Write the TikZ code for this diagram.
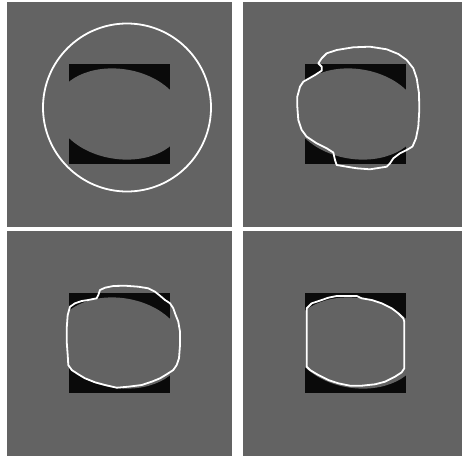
\documentclass[tikz,border=0pt]{standalone}
\definecolor{panelgray}{RGB}{99,99,99}
\definecolor{blk}{RGB}{10,10,10}
\tikzset{
  panel/.style={fill=panelgray},
  blackbox/.style={fill=blk},
  contour/.style={draw=white, line width=1.8pt, line join=round},
}
\begin{document}
\begin{tikzpicture}[x=1pt,y=-1pt]
\useasboundingbox (0,0) rectangle (462,458);
\fill[white] (0,0) rectangle (462,458);
% panels
\fill[panel] (7,2) rectangle (232,227);
\fill[panel] (243,2) rectangle (462,227);
\fill[panel] (7,231) rectangle (232,456);
\fill[panel] (243,231) rectangle (462,456);
% black boxes with gray ellipse
\foreach \dx/\dy in {0/0,236/0,0/229,236/229}{
  \begin{scope}[shift={(\dx,\dy)}]
    \fill[blackbox] (69,64) rectangle (170,164);
    \begin{scope}
      \clip (69,64) rectangle (170,164);
      \fill[panelgray, shift={(119.5,114)}, rotate=-9] (0,0) ellipse [x radius=65, y radius=45];
    \end{scope}
  \end{scope}
}
% panel 1: circle
\draw[contour] (127,107.5) circle [radius=84];
% panel 2
\draw[contour] (318.3,63.3) -- (321.7,66.7) -- (321.7,70.7) -- (315,75) -- (303.3,81.7) -- (300,86.7) -- (297.3,96.7) -- (297.3,106.7) -- (298.3,120) -- (301.7,130) -- (306.7,136.7) -- (316.7,143.3) -- (326.7,148.3) -- (333.3,152.5) -- (335,160) -- (336.7,165) -- (346.7,166.7) -- (356.7,168.3) -- (370,169.3) -- (378.3,168) -- (386.7,166.7) -- (390,163.3) -- (393.3,158.3) -- (400,153.3) -- (406.7,150) -- (412.5,146.5) -- (416,138.3) -- (418.3,126.7) -- (419.3,110) -- (419,93.3) -- (416.7,78.3) -- (413.3,68.3) -- (406.7,60) -- (398.3,54) -- (386.7,49.3) -- (370,46.7) -- (353.3,47.3) -- (336.7,50) -- (326.7,53.3) -- (321.7,58.3) -- cycle;
% panel 3
\draw[contour] (70,306.7) -- (75,303.3) -- (81.7,301) -- (88.3,300) -- (96.7,298.3) -- (98.3,295) -- (100,290) -- (105,287.7) -- (113.3,286) -- (125,285.7) -- (138.3,286.7) -- (148.3,288.3) -- (155,291.7) -- (160,295.7) -- (165,300) -- (170,303.3) -- (173.3,308.3) -- (175,313.3) -- (178.3,321.7) -- (180,331.7) -- (180,345) -- (179,358.3) -- (176.7,365) -- (173.3,370) -- (166.7,374.3) -- (160,378.3) -- (151.7,381.7) -- (141.7,385) -- (128.3,386.7) -- (116.7,387.7) -- (105,385) -- (95,382.3) -- (85,378.3) -- (78.3,374.3) -- (71.7,370) -- (68.3,365) -- (67.7,355) -- (66.7,341.7) -- (66.7,328.3) -- (67.7,315) -- cycle;
% panel 4
\draw[contour] (306.7,308.3) -- (311.7,303.3) -- (321.7,300) -- (328.3,297.7) -- (336.7,296) -- (356.7,296) -- (361.7,298.3) -- (371.7,300) -- (381.7,303.3) -- (391.7,308.3) -- (398.3,313.3) -- (403.3,318.3) -- (404.3,321.7) -- (404.3,368.3) -- (401.7,372.3) -- (395,376.7) -- (385,381.7) -- (375,384.3) -- (361.7,385.7) -- (350,385.7) -- (338.3,383.3) -- (328.3,380) -- (318.3,375) -- (310,370) -- (306.7,366.7) -- cycle;
\end{tikzpicture}
\end{document}
